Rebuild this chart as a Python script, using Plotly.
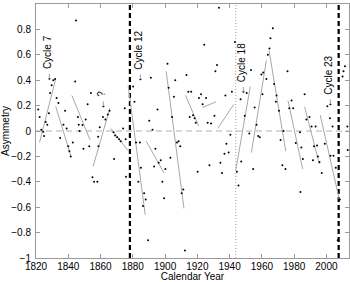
import plotly.graph_objects as go

# ---- data ----
years = [1821.4, 1822.3, 1823.3, 1824.5, 1825.0, 1826.0, 1827.0, 1828.0, 1828.7, 1829.7,
         1830.7, 1831.8, 1832.8, 1833.9, 1835.0, 1837.0, 1838.0, 1839.0, 1840.0, 1840.7,
         1841.5, 1842.8, 1844.3, 1844.8, 1846.0, 1846.5, 1847.0, 1848.8, 1849.4, 1850.8,
         1852.0, 1853.0, 1854.0, 1855.0, 1856.0, 1858.0, 1858.5, 1858.7, 1859.5, 1861.5,
         1863.0, 1864.5, 1865.6, 1868.0, 1868.4, 1869.0, 1870.3, 1871.5, 1872.5, 1874.0,
         1875.0, 1875.6, 1875.8, 1878.3, 1880.2, 1881.0, 1882.0, 1883.4, 1884.4, 1885.0,
         1886.3, 1887.0, 1888.0, 1889.5, 1890.2, 1891.2, 1892.2, 1893.2, 1894.0, 1895.3,
         1896.0, 1897.3, 1898.3, 1899.4, 1900.2, 1901.5, 1902.2, 1903.3, 1904.3, 1905.5,
         1906.3, 1907.4, 1908.4, 1909.4, 1910.3, 1911.3, 1912.3, 1913.3, 1914.4, 1915.3,
         1916.2, 1917.3, 1918.3, 1919.0, 1920.2, 1921.0, 1922.3, 1923.3, 1924.3, 1925.4,
         1926.4, 1927.5, 1928.5, 1930.6, 1931.2, 1932.2, 1933.4, 1934.3, 1935.3, 1936.8,
         1937.4, 1938.0, 1939.4, 1940.5, 1941.4, 1943.3, 1944.5, 1945.5, 1946.8, 1947.2,
         1949.4, 1950.6, 1952.2, 1953.3, 1954.6, 1955.5, 1956.7, 1957.7, 1958.7, 1959.7,
         1960.4, 1960.8, 1962.8, 1963.7, 1964.7, 1965.3, 1966.8, 1967.6, 1968.7, 1969.1,
         1970.6, 1971.6, 1972.7, 1973.4, 1974.6, 1975.9, 1977.0, 1978.4, 1979.4, 1981.0,
         1983.6, 1983.9, 1984.5, 1985.4, 1986.5, 1987.6, 1989.5, 1990.8, 1991.6, 1992.3,
         1993.3, 1994.2, 1994.7, 1995.7, 1997.1, 1999.0, 2000.6, 2002.2, 2002.5, 2003.8,
         2004.4, 2005.8, 2007.0, 2008.3, 2010.0, 2010.6, 2011.5, 2013.0, 2013.2]
asym = [0.17, 0.11, 0.01, -0.005, -0.04, 0.07, 0.05, 0.14, 0.30, 0.36,
        0.40, 0.41, 0.26, 0.22, -0.055, 0.05, 0.16, 0.02, -0.12, -0.16,
        -0.20, -0.09, 0.39, 0.87, 0.11, 0.05, 0.0, 0.047, -0.14, 0.09,
        0.21, -0.12, 0.30, -0.365, -0.40, -0.40, -0.045, -0.12, 0.03, 0.11,
        0.09, 0.13, 0.16, -0.01, -0.22, -0.035, -0.05, -0.065, -0.08, 0.02,
        0.18, -0.065, -0.36, -0.40, 0.35, 0.23, -0.09, -0.40, -0.09, -0.29,
        -0.59, -0.49, -0.54, -0.86, 0.08, 0.42, 0.01, -0.28, -0.14, 0.17,
        -0.25, -0.23, -0.40, -0.53, -0.30, 0.53, 0.34, -0.21, 0.11, 0.27,
        0.40, -0.09, -0.08, -0.12, -0.49, -0.46, -0.94, 0.44, 0.31, 0.11,
        0.31, 0.125, 0.10, 0.065, -0.32, 0.26, 0.29, 0.21, 0.68, 0.26,
        0.065, -0.27, 0.06, 0.12, 0.47, 0.52, 0.97, -0.25, -0.33, -0.18,
        0.28, -0.10, -0.17, -0.03, 0.31, 0.70, -0.32, -0.43, 0.25, -0.24,
        0.12, 0.30, -0.02, 0.48, -0.30, 0.185, 0.05, -0.04, -0.05, 0.445,
        0.29, 0.46, 0.41, 0.60, 0.65, 0.73, 0.81, 0.37, 0.23, 0.28,
        0.16, -0.07, -0.27, 0.0, -0.30, 0.47, 0.18, 0.24, 0.18, -0.095,
        -0.01, -0.48, -0.13, -0.22, 0.29, 0.09, 0.11, 0.035, -0.23, -0.12,
        0.035, -0.115, -0.20, -0.245, -0.33, -0.10, 0.195, 0.10, -0.195, 0.035,
        -0.195, -0.29, -0.86, -0.54, 0.43, 0.47, 0.51, 0.035, -0.15]

# per-cycle linear fits: start/end year and value
fit_x0 = [1822.2, 1832.2, 1842.2, 1855.4, 1866.4, 1877.1, 1888.3, 1900.7, 1912.7, 1923.3,
          1932.6, 1943.8, 1953.5, 1964.5, 1976.2, 1986.5, 1996.2]
fit_y0 = [-0.09, 0.195, 0.28, -0.28, 0.02, 0.36, -0.08, 0.47, 0.28, 0.185,
          0.02, -0.31, -0.17, 0.63, 0.24, 0.19, 0.125]
fit_x1 = [1832.2, 1841.7, 1853.5, 1865.8, 1877.1, 1887.7, 1899.3, 1911.7, 1920.8, 1931.6,
          1942.6, 1952.8, 1962.8, 1974.8, 1985.3, 1995.6, 2008.0]
fit_y1 = [0.41, -0.20, -0.07, 0.18, -0.155, -0.66, -0.33, -0.61, 0.04, 0.23,
          0.21, 0.35, 0.555, -0.16, -0.30, -0.26, -0.54]

bound_years = [1878.2, 1943.8, 2007.6]
bound_styles = ["thick", "thin", "thick"]

labels = ["\u2190 Cycle 7", "\u2190 ?", "\u2190 Cycle 12", "\u2190 Cycle 18", "\u2190 Cycle 23"]
label_x = [1827.0, 1860.3, 1883.5, 1947.8, 2001.0]
label_y = [0.57, 0.24, 0.59, 0.49, 0.39]

xticks = [1820, 1840, 1860, 1880, 1900, 1920, 1940, 1960, 1980, 2000]
yticks = [-1, -0.8, -0.6, -0.4, -0.2, 0, 0.2, 0.4, 0.6, 0.8, 1]

FONT = "Liberation Sans, Arial, Helvetica, sans-serif"

fig = go.Figure()

# zero line
fig.add_trace(go.Scatter(x=[1820, 2014], y=[0, 0], mode="lines",
                         line=dict(color="#b0b0b0", width=1, dash="6px,4px"),
                         hoverinfo="skip", showlegend=False))

# cycle boundaries
for bx, st in zip(bound_years, bound_styles):
    if st == "thick":
        ln = dict(color="black", width=2.2, dash="5px,3px")
    else:
        ln = dict(color="#a0a0a0", width=1, dash="1px,2px")
    fig.add_trace(go.Scatter(x=[bx, bx], y=[-1, 1], mode="lines", line=ln,
                             hoverinfo="skip", showlegend=False))

# fit lines
lx, ly = [], []
for a, b, c, d in zip(fit_x0, fit_y0, fit_x1, fit_y1):
    lx += [a, c, None]
    ly += [b, d, None]
fig.add_trace(go.Scatter(x=lx, y=ly, mode="lines",
                         line=dict(color="#a8a8a8", width=1),
                         hoverinfo="skip", showlegend=False))

# data points
fig.add_trace(go.Scatter(x=years, y=asym, mode="markers",
                         marker=dict(color="black", size=2),
                         showlegend=False))

for t, x, y in zip(labels, label_x, label_y):
    fig.add_annotation(x=x, y=y, text=t, textangle=-90, showarrow=False,
                       font=dict(family=FONT, size=10, color="black"))

axis_common = dict(showline=True, linecolor="#9a9a9a", linewidth=1, mirror="ticks",
                   ticks="inside", ticklen=4, tickcolor="#9a9a9a", showgrid=False,
                   zeroline=False, tickfont=dict(family=FONT, size=10, color="black"))

fig.update_layout(
    width=350, height=282,
    margin=dict(l=36, r=1, t=4, b=24),
    paper_bgcolor="white", plot_bgcolor="white",
    xaxis=dict(range=[1820, 2014], tickvals=xticks, automargin=False,
               ticklabelstandoff=-1,
               title=dict(text="Calendar Year", standoff=0,
                          font=dict(family=FONT, size=10, color="black")),
               **axis_common),
    yaxis=dict(range=[-1, 1], tickvals=yticks, automargin=False,
               ticklabelstandoff=2,
               title=dict(text="Asymmetry", standoff=1,
                          font=dict(family=FONT, size=10, color="black")),
               **axis_common),
)

fig.write_html("out.html", config={"displayModeBar": False},
               post_script="document.body.style.margin='0';")
